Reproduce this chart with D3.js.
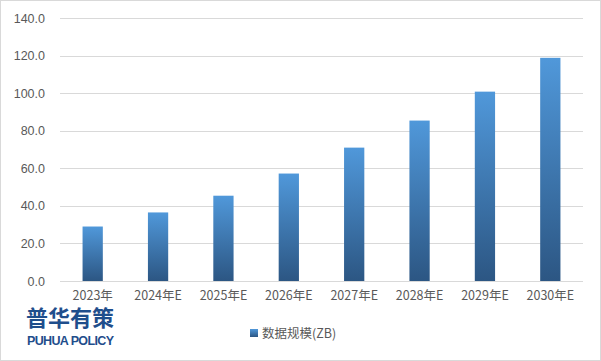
<!DOCTYPE html>
<html>
<head>
<meta charset="utf-8">
<script src="https://cdn.jsdelivr.net/npm/d3@7/dist/d3.min.js"></script>
<style>
  body { margin: 0; background: #fff; }
  svg { display: block; font-family: "Noto Sans CJK SC", "Liberation Sans", sans-serif; }
</style>
</head>
<body>
<div id="chart"></div>
<script>
'use strict';

var categories = ['2023年', '2024年E', '2025年E', '2026年E', '2027年E', '2028年E', '2029年E', '2030年E'];
var values = [29.0, 36.5, 45.4, 57.2, 71.0, 85.4, 100.8, 118.8];
var yTicks = [0, 20, 40, 60, 80, 100, 120, 140];
var seriesName = '数据规模(ZB)';

var width = 601, height = 361;
var margin = { top: 18, right: 18, bottom: 80, left: 60 };

var svg = d3.select('#chart').append('svg')
    .attr('width', width)
    .attr('height', height);

//Outer frame
svg.append('rect')
    .attr('x', 0.5).attr('y', 0.5)
    .attr('width', width - 1).attr('height', height - 1)
    .attr('fill', '#fff')
    .attr('stroke', '#d9d9d9');

var defs = svg.append('defs');
var grad = defs.append('linearGradient')
    .attr('id', 'barGrad')
    .attr('x1', 0).attr('y1', 0).attr('x2', 0).attr('y2', 1);
grad.append('stop').attr('offset', '0%').attr('stop-color', '#5098da');
grad.append('stop').attr('offset', '100%').attr('stop-color', '#2c5683');

var x = d3.scaleBand()
    .domain(categories)
    .range([margin.left, 583])
    .paddingInner(0.69)
    .paddingOuter(0.345);

var y = d3.scaleLinear()
    .domain([0, 140])
    .range([281, margin.top]);

//Grid lines
svg.append('g')
    .selectAll('line')
    .data(yTicks)
    .enter()
    .append('line')
    .attr('x1', margin.left).attr('x2', 583)
    .attr('y1', function(d) { return Math.round(y(d)) + 0.5; })
    .attr('y2', function(d) { return Math.round(y(d)) + 0.5; })
    .attr('stroke', '#d9d9d9');

//Y axis labels
var yAxis = d3.axisLeft(y)
    .tickValues(yTicks)
    .tickSize(0)
    .tickPadding(0)
    .tickFormat(d3.format('.1f'));
var yG = svg.append('g')
    .attr('transform', 'translate(45,0)')
    .call(yAxis);
yG.select('.domain').remove();
yG.selectAll('text')
    .attr('fill', '#595959')
    .style('font-size', '12.5px')
    .style('font-family', '"Liberation Sans", sans-serif');

//Bars
svg.append('g')
    .selectAll('rect')
    .data(values)
    .enter()
    .append('rect')
    .attr('x', function(d, i) { return x(categories[i]); })
    .attr('y', function(d) { return y(d); })
    .attr('width', x.bandwidth())
    .attr('height', function(d) { return y(0) - y(d); })
    .attr('fill', 'url(#barGrad)');

//X axis labels
var xAxis = d3.axisBottom(x).tickSize(0).tickPadding(0);
var xG = svg.append('g')
    .attr('transform', 'translate(0,291)')
    .call(xAxis);
xG.select('.domain').remove();
xG.selectAll('text')
    .attr('fill', '#595959')
    .style('font-size', '12.5px')
    .style('font-family', '"Noto Sans CJK SC", sans-serif');

//Legend
var legend = svg.append('g').attr('transform', 'translate(250,329)');
legend.append('rect')
    .attr('width', 8).attr('height', 8)
    .attr('fill', 'url(#barGrad)');
legend.append('text')
    .attr('x', 12).attr('y', 8.5)
    .attr('fill', '#595959')
    .style('font-size', '12.5px')
    .text(seriesName);

//Logo
var logo = svg.append('g');
logo.append('text')
    .attr('x', 26).attr('y', 326)
    .attr('fill', '#1f4e8c')
    .style('font-size', '22px')
    .style('font-weight', 'bold')
    .attr('textLength', 88)
    .text('普华有策');
logo.append('text')
    .attr('x', 27).attr('y', 345)
    .attr('fill', '#1f4e8c')
    .style('font-size', '12.5px')
    .style('font-weight', 'bold')
    .style('font-family', '"Liberation Sans", sans-serif')
    .attr('textLength', 87)
    .text('PUHUA POLICY');
</script>
</body>
</html>
